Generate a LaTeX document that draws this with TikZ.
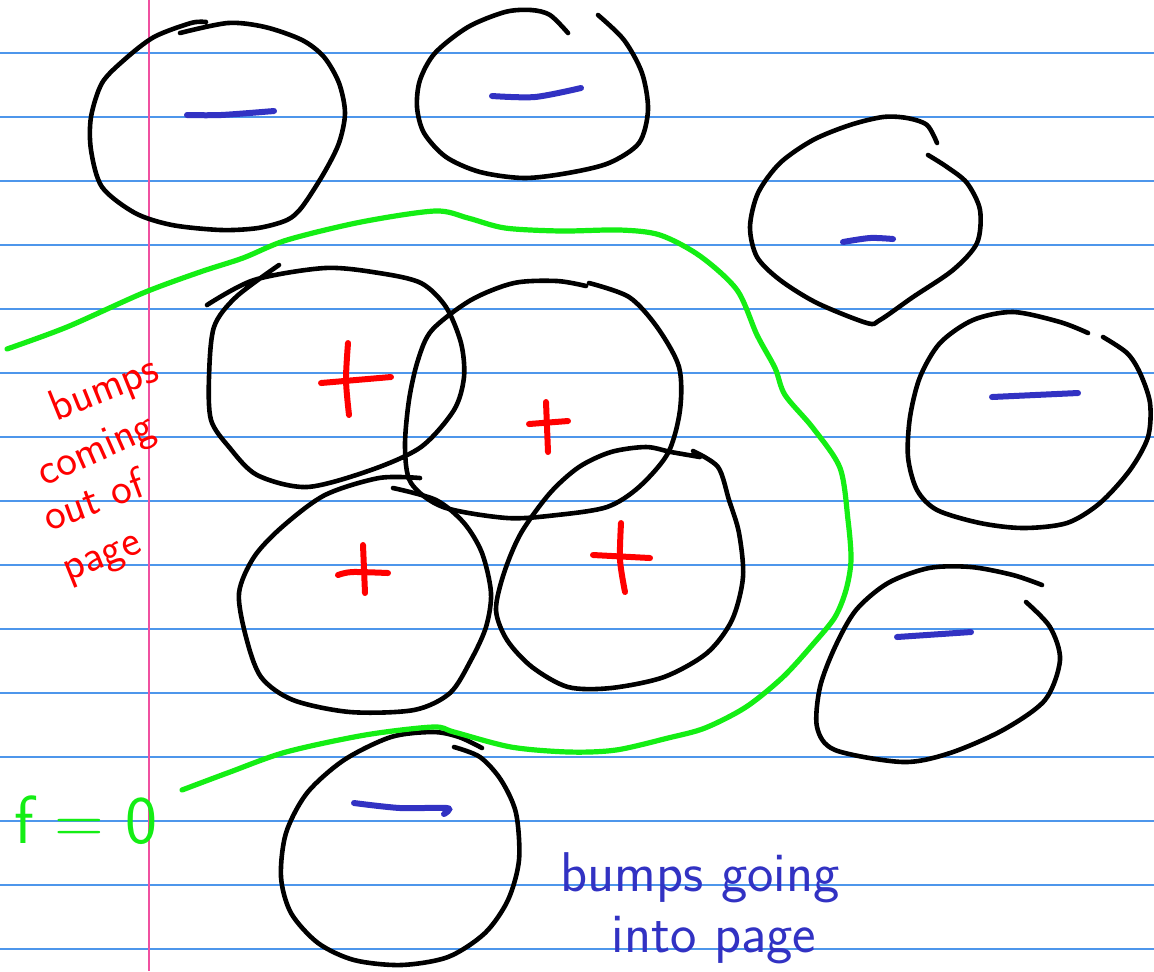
\documentclass[tikz,border=0pt]{standalone}
\usepackage{xcolor}
\usepackage{tikz}
\usetikzlibrary{positioning}
\definecolor{rulingblue}{RGB}{78,150,235}
\definecolor{marginpink}{RGB}{240,80,160}
\definecolor{inkgreen}{RGB}{20,238,20}
\definecolor{inkred}{RGB}{255,0,0}
\definecolor{inkblue}{RGB}{50,50,195}
\tikzset{
  ruling/.style={draw=rulingblue, line width=0.9pt},
  marginline/.style={draw=marginpink, line width=1pt},
  bump/.style={draw=black, line width=2.3pt, line cap=round, line join=round},
  plussign/.style={draw=inkred, line width=3pt, line cap=round},
  minussign/.style={draw=inkblue, line width=3pt, line cap=round},
  zeroline/.style={draw=inkgreen, line width=2.6pt, line cap=round},
  redhand/.style={text=inkred, inner sep=0pt, font=\sffamily\fontsize{22}{24}\selectfont},
  bluehand/.style={text=inkblue, inner sep=0pt, font=\sffamily\fontsize{28}{30}\selectfont},
  greenhand/.style={text=inkgreen, inner sep=0pt, font=\sffamily\fontsize{34}{36}\selectfont}
}

\begin{document}
\begin{tikzpicture}[x=0.5pt, y=-0.5pt]
    % Paper
    \fill[white] (0,0) rectangle (1154,971);
    \useasboundingbox (0,0) rectangle (1154,971);
    \foreach \k in {0,...,14}
      \draw[ruling] (0,{53+64*\k}) -- (1154,{53+64*\k});
    \draw[marginline] (149,0) -- (149,971);
    % Negative bumps
    \draw[bump] plot[smooth] coordinates {(180,33) (228,23) (265,27) (302,40) (324,57) (339,83) (345,113) (339,143) (324,173) (302,207) (287,220) (258,228) (221,230) (172,225) (135,213) (102,187) (91,150) (91,117) (102,83) (124,60) (154,37) (191,23) (206,22)};
    \draw[bump] plot[smooth] coordinates {(568,33) (550,15) (531,10) (505,12) (468,27) (435,53) (420,80) (417,107) (424,133) (446,157) (480,172) (524,178) (568,173) (609,163) (639,143) (648,110) (642,73) (624,40) (598,15)};
    \draw[bump] plot[smooth] coordinates {(937,143) (927,125) (907,118) (883,117) (850,125) (813,140) (780,163) (758,193) (750,227) (757,257) (780,280) (817,303) (867,323) (880,320) (913,297) (953,270) (977,243) (980,210) (967,183) (947,167) (928,155)};
    \draw[bump] plot[smooth] coordinates {(1088,333) (1060,322) (1013,312) (973,320) (940,343) (920,377) (910,417) (908,457) (917,490) (937,510) (980,523) (1023,528) (1067,523) (1100,503) (1130,470) (1148,437) (1150,403) (1140,373) (1127,353) (1103,337)};
    \draw[bump] plot[smooth] coordinates {(1042,585) (1013,575) (971,567) (929,568) (888,583) (856,610) (835,647) (820,687) (817,727) (835,750) (903,762) (950,753) (1003,730) (1045,700) (1060,660) (1050,627) (1026,602)};
    \draw[bump] plot[smooth] coordinates {(482,748) (459,737) (433,732) (391,737) (344,760) (307,793) (286,833) (281,877) (291,913) (318,943) (354,960) (401,965) (448,957) (485,933) (508,900) (519,860) (516,813) (501,780) (480,757) (454,747)};
    % Positive bumps
    \draw[bump] plot[smooth] coordinates {(207,305) (254,280) (325,268) (379,273) (421,283) (446,307) (461,343) (464,377) (454,410) (421,447) (371,470) (307,487) (257,475) (229,447) (211,420) (209,377) (214,327) (236,297) (279,265)};
    \draw[bump] plot[smooth] coordinates {(586,286) (557,281) (514,283) (471,300) (432,330) (418,360) (409,400) (405,447) (411,483) (443,507) (507,518) (557,515) (607,507) (639,487) (668,453) (680,410) (679,367) (657,327) (629,297) (589,283)};
    \draw[bump] plot[smooth] coordinates {(420,478) (379,478) (325,495) (282,527) (254,557) (239,593) (246,637) (261,677) (293,700) (350,712) (414,710) (450,693) (471,660) (486,627) (491,593) (482,553) (464,523) (436,500) (393,488)};
    \draw[bump] plot[smooth] coordinates {(700,457) (671,452) (646,447) (611,452) (579,467) (550,493) (521,533) (504,573) (496,610) (507,640) (532,667) (568,687) (611,688) (664,677) (707,653) (732,620) (743,577) (739,533) (729,500) (718,467) (693,451)};
    % Signs
    \draw[plussign] plot[smooth] coordinates {(348,343) (346,380) (349,415)};
    \draw[plussign] (321,383) -- (391,377);
    \draw[plussign] (546,402) -- (548,452);
    \draw[plussign] (529,424) -- (568,421);
    \draw[plussign] (363,545) -- (365,593);
    \draw[plussign] plot[smooth] coordinates {(338,575) (352,572) (388,573)};
    \draw[plussign] plot[smooth] coordinates {(621,523) (620,560) (625,592)};
    \draw[plussign] (593,555) -- (650,558);
    \draw[minussign] plot[smooth] coordinates {(187,115) (221,115) (274,111)};
    \draw[minussign] plot[smooth] coordinates {(492,96) (535,97) (581,88)};
    \draw[minussign] plot[smooth] coordinates {(843,242) (870,238) (893,239)};
    \draw[minussign] (992,397) -- (1078,393);
    \draw[minussign] (897,637) -- (971,632);
    \draw[minussign] plot[smooth] coordinates {(354,803) (400,808) (447,808) (444,814)};
    % Zero level
    \draw[zeroline] plot[smooth] coordinates {(7,349) (67,327) (143,293) (200,272) (243,258) (287,240) (361,222) (435,211) (468,218) (505,228) (561,231) (620,230) (660,235) (700,256) (737,290) (757,335) (775,368) (785,395) (813,428) (840,468) (848,520) (851,560) (846,590) (835,617) (814,643) (783,677) (746,707) (705,728) (668,738) (616,750) (569,752) (511,747) (454,732) (433,727) (365,735) (286,752) (230,772) (182,790)};
    % Labels
    \node[redhand, rotate=22] (bumpsout) at (105,390) {bumps};
    \node[redhand, rotate=24] (coming) at (97,452) {coming};
    \node[redhand, rotate=20] (outof) at (93,499) {out of};
    \node[redhand, rotate=22] (pageout) at (104,562) {page};
    \node[bluehand] (bumpsin) at (700,878) {bumps going};
    \node[bluehand] (intopage) at (714,940) {into page};
    \node[greenhand] (fzero) at (86,820) {f = 0};
\end{tikzpicture}
\end{document}
